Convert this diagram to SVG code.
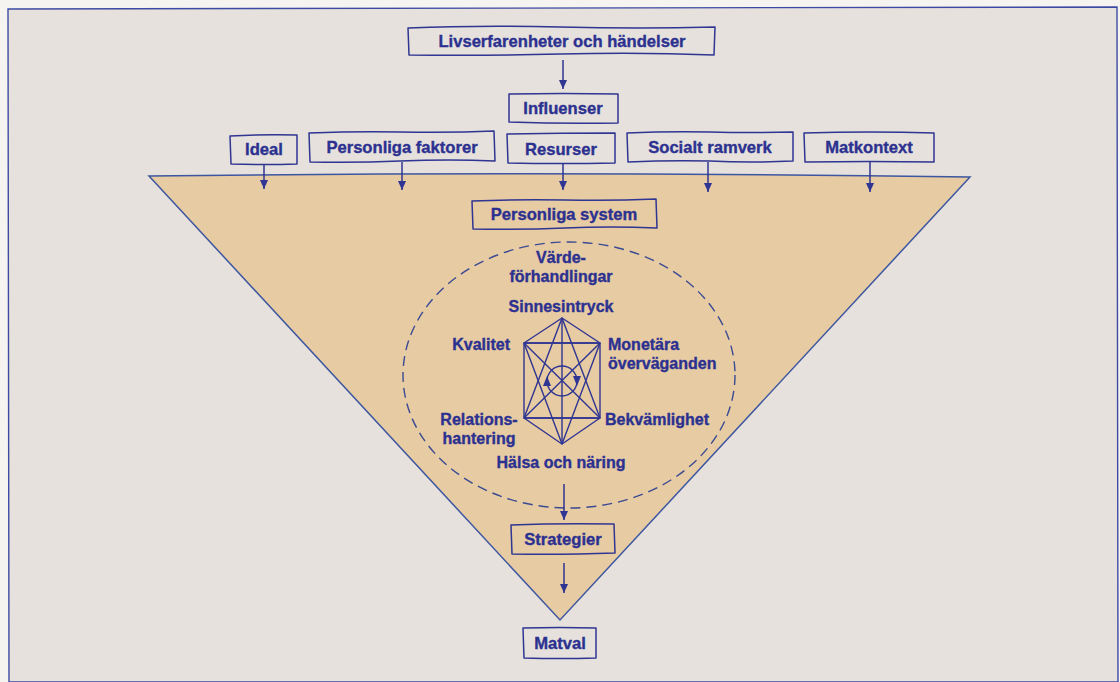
<svg xmlns="http://www.w3.org/2000/svg" width="1120" height="682" viewBox="0 0 1120 682">
  <defs>
    <style>
      .panel { fill: #e6e1dc; stroke: #3d4aa3; stroke-width: 1.4; }
      .funnel { fill: #e7cba3; stroke: none; }
      .funnel-edge { fill: none; stroke: #3d56a0; stroke-width: 1.5; }
      .box { fill: none; stroke: #2f3592; stroke-width: 1.5; stroke-linejoin: round; }
      .lbl { font-family: "Liberation Sans", Arial, sans-serif; font-weight: bold; font-size: 16.6px; fill: #2c3190; stroke: #2c3190; stroke-width: 0.35; text-anchor: middle; }
      .val { font-family: "Liberation Sans", Arial, sans-serif; font-weight: bold; font-size: 16px; fill: #2c3190; stroke: #2c3190; stroke-width: 0.35; }
      .conn { fill: none; stroke: #2f3592; stroke-width: 1.5; }
      .geo { fill: none; stroke: #2f3592; stroke-width: 1.4; stroke-linejoin: round; }
      .dash { fill: none; stroke: #3a4a93; stroke-width: 1.4; stroke-dasharray: 10 6; }
    </style>
    <marker id="arrow" markerUnits="userSpaceOnUse" markerWidth="10" markerHeight="10" refX="9" refY="5" orient="auto">
      <path d="M0,1 L9,5 L0,9 z" fill="#2f3592"/>
    </marker>
  </defs>

  <!-- page and backing panel -->
  <rect x="0" y="0" width="1120" height="682" fill="#f6f4f1"/>
  <path class="panel" d="M8,9 L1117,7 L1118,682 L9,682 Z"/>

  <!-- funnel -->
  <path class="funnel" d="M149,176 Q560,171 970,177 L560,620 Z"/>
  <path class="funnel-edge" d="M149,176 Q560,171 970,177 L560,620 Z"/>

  <!-- dashed boundary of the personal system -->
  <ellipse class="dash" cx="569" cy="375" rx="166" ry="133"/>

  <!-- connectors -->
  <g id="connectors">
    <line class="conn" x1="563" y1="60" x2="563" y2="89" marker-end="url(#arrow)"/>
    <line class="conn" x1="264" y1="164" x2="264" y2="189" marker-end="url(#arrow)"/>
    <line class="conn" x1="402" y1="162" x2="402" y2="190" marker-end="url(#arrow)"/>
    <line class="conn" x1="563" y1="164" x2="563" y2="190" marker-end="url(#arrow)"/>
    <line class="conn" x1="708" y1="162" x2="708" y2="192" marker-end="url(#arrow)"/>
    <line class="conn" x1="870" y1="162" x2="870" y2="192" marker-end="url(#arrow)"/>
    <line class="conn" x1="564" y1="484" x2="564" y2="520" marker-end="url(#arrow)"/>
    <line class="conn" x1="564" y1="563" x2="564" y2="593" marker-end="url(#arrow)"/>
  </g>

  <!-- boxes -->
  <g id="livserfarenheter">
    <path class="box" d="M408,28 Q480,25 560,27 Q640,29 715,27 L714,55 Q640,52 560,54 Q480,56 409,55 Z"/>
    <text class="lbl" x="562" y="47">Livserfarenheter och händelser</text>
  </g>
  <g id="influenser">
    <path class="box" d="M509,94 Q563,93 618,94 L618,123 Q563,124 509,122 Z"/>
    <text class="lbl" x="563" y="114">Influenser</text>
  </g>
  <g id="ideal">
    <path class="box" d="M230,136 Q264,134 297,135 L297,164 Q264,165 231,164 Z"/>
    <text class="lbl" x="264" y="155">Ideal</text>
  </g>
  <g id="personliga-faktorer">
    <path class="box" d="M309,133 Q360,131 400,132 Q450,133 494,131 L495,161 Q450,159 400,161 Q355,163 310,162 Z"/>
    <text class="lbl" x="402" y="153">Personliga faktorer</text>
  </g>
  <g id="resurser">
    <path class="box" d="M507,134 Q560,133 615,133 L615,163 Q560,164 508,163 Z"/>
    <text class="lbl" x="561" y="155">Resurser</text>
  </g>
  <g id="socialt-ramverk">
    <path class="box" d="M627,133 Q670,131 710,132 Q750,133 793,132 L793,161 Q750,163 710,161 Q670,160 628,162 Z"/>
    <text class="lbl" x="710" y="153">Socialt ramverk</text>
  </g>
  <g id="matkontext">
    <path class="box" d="M804,133 Q870,131 934,133 L934,162 Q870,161 805,162 Z"/>
    <text class="lbl" x="869" y="153">Matkontext</text>
  </g>
  <g id="personliga-system">
    <path class="box" d="M472,201 Q520,199 565,200 Q610,201 656,199 L657,228 Q610,226 565,228 Q520,230 473,229 Z"/>
    <text class="lbl" x="564" y="220">Personliga system</text>
  </g>

  <!-- value negotiations -->
  <g id="vardeforhandlingar">
    <text class="val" x="561" y="263" text-anchor="middle">Värde-</text>
    <text class="val" x="561" y="282" text-anchor="middle">förhandlingar</text>
  </g>
  <g id="varderingsfigur">
    <!-- hexagon -->
    <path class="geo" d="M562,318 L600,343 L600,418 L562,444 L524,418 L524,343 Z"/>
    <!-- crossbars and axis -->
    <line class="geo" x1="524" y1="343" x2="600" y2="343"/>
    <line class="geo" x1="524" y1="418" x2="600" y2="418"/>
    <line class="geo" x1="562" y1="318" x2="562" y2="444"/>
    <!-- two interlocking triangles -->
    <path class="geo" d="M562,318 L524,418 L600,418 Z"/>
    <path class="geo" d="M562,444 L524,343 L600,343 Z"/>
    <!-- diagonals -->
    <line class="geo" x1="524" y1="343" x2="600" y2="418"/>
    <line class="geo" x1="600" y1="343" x2="524" y2="418"/>
    <!-- rotation circle -->
    <circle class="geo" cx="562" cy="381" r="15"/>
    <path d="M547,376 L551,386 L543,386 Z" fill="#2f3592"/>
    <path d="M577,386 L573,376 L581,376 Z" fill="#2f3592"/>
  </g>
  <g id="sinnesintryck"><text class="val" x="561" y="312" text-anchor="middle">Sinnesintryck</text></g>
  <g id="kvalitet"><text class="val" x="510" y="350" text-anchor="end">Kvalitet</text></g>
  <g id="monetara">
    <text class="val" x="608" y="350">Monetära</text>
    <text class="val" x="608" y="369">överväganden</text>
  </g>
  <g id="relationshantering">
    <text class="val" x="479" y="425" text-anchor="middle">Relations-</text>
    <text class="val" x="479" y="444" text-anchor="middle">hantering</text>
  </g>
  <g id="bekvamlighet"><text class="val" x="605" y="425">Bekvämlighet</text></g>
  <g id="halsa"><text class="val" x="561" y="468" text-anchor="middle">Hälsa och näring</text></g>

  <g id="strategier">
    <path class="box" d="M511,525 Q560,523 614,524 L615,553 Q560,555 512,554 Z"/>
    <text class="lbl" x="563" y="545">Strategier</text>
  </g>
  <g id="matval">
    <path class="box" d="M523,628 Q560,627 596,628 L596,658 Q560,659 524,658 Z"/>
    <text class="lbl" x="560" y="649">Matval</text>
  </g>
</svg>
